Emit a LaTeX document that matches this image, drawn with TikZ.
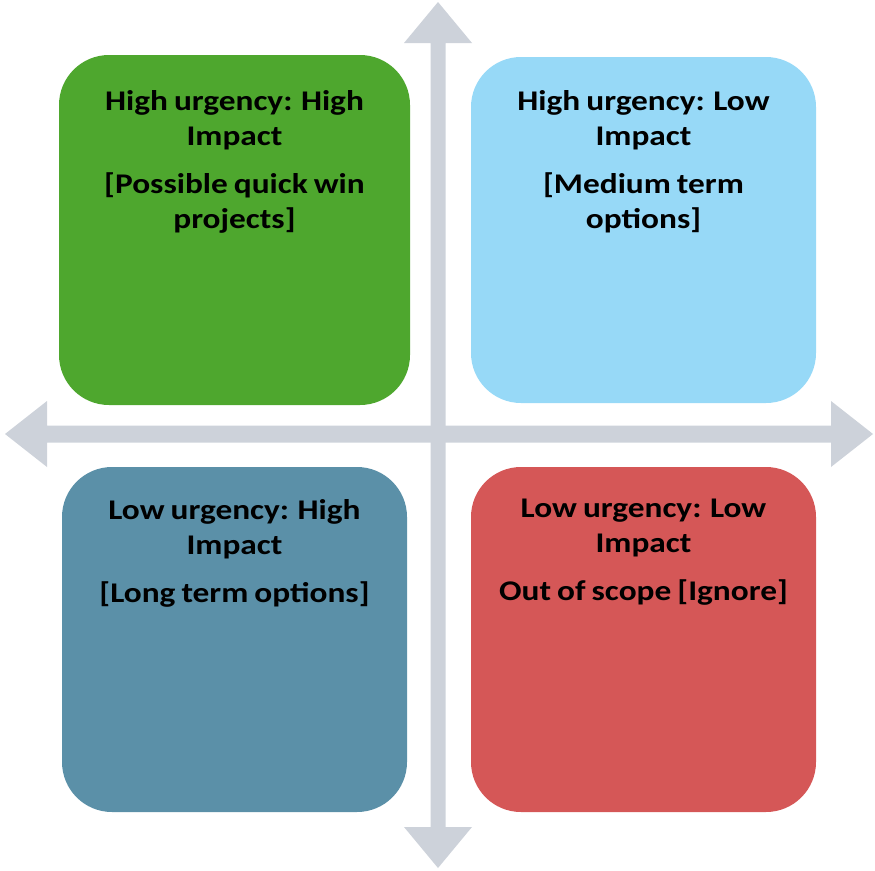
\documentclass[tikz,border=0pt]{standalone}
\usepackage{fontspec}
\setmainfont{Carlito}[FakeStretch=1.17,WordSpace=0.8]
\definecolor{arrowgrey}{HTML}{CDD2DA}
\definecolor{qgreen}{HTML}{4EA72E}
\definecolor{qlight}{HTML}{97D9F7}
\definecolor{qsteel}{HTML}{5B90A8}
\definecolor{qred}{HTML}{D55757}
\tikzset{
  quad/.style={rounded corners=50pt, draw=none},
  qtext/.style={anchor=north, align=center, font=\bfseries\fontsize{28.5}{35}\selectfont, text=black, inner sep=0pt},
}
\begin{document}
\begin{tikzpicture}[x=1pt,y=-1pt]
\useasboundingbox (0,0) rectangle (875,870);
% axes
\fill[arrowgrey] (438,2) -- (472,43) -- (445.5,43) -- (445.5,827) -- (472,827) -- (438,868)
  -- (404,827) -- (430.5,827) -- (430.5,43) -- (404,43) -- cycle;
\fill[arrowgrey] (5,434) -- (47,401) -- (47,425.5) -- (831,425.5) -- (831,401) -- (873,434)
  -- (831,467) -- (831,442.5) -- (47,442.5) -- (47,467) -- cycle;
% quadrants
\fill[qgreen, quad] (59,55) rectangle (410,405);
\fill[qlight, quad] (471,57) rectangle (816,403);
\fill[qsteel, quad] (62,467) rectangle (407,812);
\fill[qred, quad] (471,467) rectangle (816,812);
\node[qtext] (t1) at (234.5,90) {High urgency: High\\Impact\\[13pt][Possible quick win\\projects]};
\node[qtext] (t2) at (643.5,90) {High urgency: Low\\Impact\\[13pt][Medium term\\options]};
\node[qtext] (t3) at (234.5,499) {Low urgency: High\\Impact\\[13pt][Long term options]};
\node[qtext] (t4) at (643.5,499) {Low urgency: Low\\Impact\\[13pt]Out of scope [Ignore]};
\end{tikzpicture}
\end{document}
